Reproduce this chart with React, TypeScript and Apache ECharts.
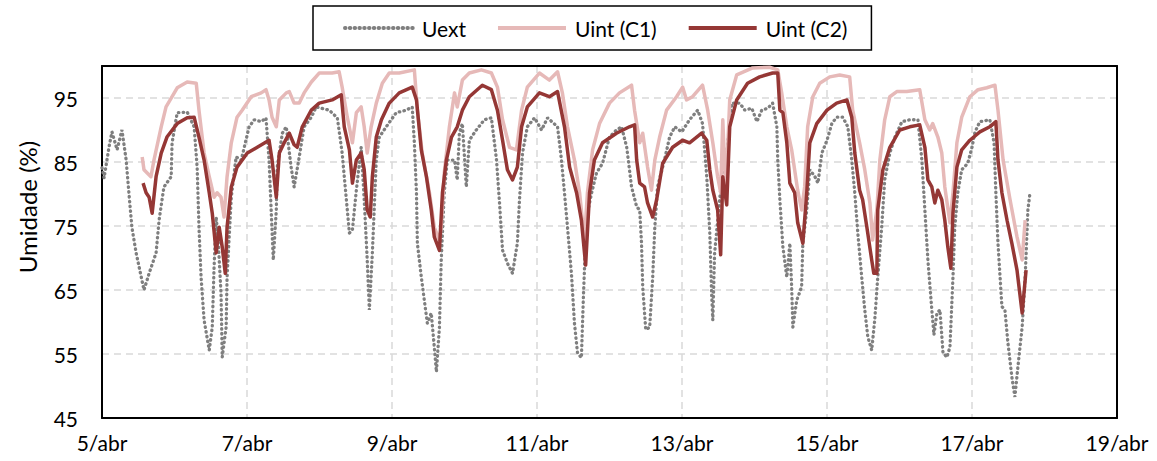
import React, { useEffect, useRef } from "react";
import * as echarts from "echarts";

// Time in hours since 5/abr 00:00, relative humidity in %
const uextHours = [
  0.0, 0.7, 2.3, 3.3, 5.0, 6.6, 8.0, 8.9, 9.9, 11.3, 13.9, 15.6, 17.9, 18.9, 20.5, 22.9, 23.2, 24.9, 28.2, 30.5,
  31.5, 32.1, 32.8, 33.8, 35.5, 36.5, 37.1, 37.8, 38.4, 39.4, 39.8, 41.1, 41.4, 42.8, 44.4, 46.1, 48.7, 50.4, 52.7, 54.3,
  55.3, 56.0, 56.7, 57.7, 58.0, 59.7, 61.0, 62.6, 63.6, 65.3, 66.9, 69.3, 70.9, 75.2, 77.9, 79.5, 80.9, 81.9, 82.9, 84.2,
  85.8, 86.8, 87.8, 88.5, 89.5, 90.8, 91.8, 94.1, 97.4, 100.7, 102.7, 103.4, 104.1, 104.4, 105.7, 106.7, 107.7, 109.0, 110.0, 110.7,
  111.7, 112.3, 113.3, 114.3, 116.7, 117.6, 118.3, 119.3, 120.6, 121.6, 123.9, 126.6, 128.9, 130.6, 131.6, 132.6, 134.2, 135.9, 137.5, 138.2,
  139.2, 140.8, 143.2, 145.5, 147.5, 150.8, 152.1, 153.1, 154.1, 155.4, 156.4, 157.4, 158.7, 159.4, 160.4, 162.1, 163.7, 165.7, 168.0, 170.3,
  172.0, 173.7, 175.3, 177.0, 178.0, 178.6, 179.0, 180.0, 181.3, 182.3, 183.0, 183.9, 186.2, 187.9, 189.6, 191.9, 194.5, 197.2, 198.8, 200.2,
  201.2, 201.8, 202.2, 202.8, 205.5, 206.8, 208.5, 211.1, 212.8, 215.1, 216.8, 218.4, 220.4, 222.0, 223.4, 223.7, 224.4, 225.4, 226.7, 227.7,
  228.3, 228.7, 230.0, 231.6, 232.0, 233.3, 234.3, 236.0, 237.0, 238.3, 240.0, 241.6, 243.2, 245.2, 246.9, 248.2, 249.2, 250.2, 251.5, 252.5,
  253.5, 254.8, 255.8, 256.8, 258.1, 259.1, 260.8, 262.5, 264.8, 267.4, 270.1, 271.4, 272.4, 273.4, 274.7, 275.4, 276.4, 277.4, 278.4, 279.7,
  280.7, 281.7, 282.3, 283.3, 284.6, 286.6, 288.0, 289.0, 290.6, 293.9, 295.3, 295.9, 296.6, 297.9, 298.9, 299.9, 301.2, 302.2, 303.2, 304.6,
  305.6, 306.5, 307.2,
];
const uextValues = [
  84.1, 82.5, 87.3, 89.7, 86.9, 90.0, 85.3, 80.2, 74.8, 70.8, 65.0, 67.6, 70.8, 75.9, 81.1, 82.7, 88.0, 92.7, 92.8, 90.5,
  84.2, 74.8, 67.0, 60.3, 55.6, 59.2, 68.6, 76.4, 73.3, 64.5, 54.5, 59.2, 67.0, 79.5, 85.8, 85.3, 90.5, 91.6, 91.3, 91.9,
  85.3, 77.5, 69.7, 77.5, 84.2, 89.5, 90.5, 84.2, 81.1, 85.8, 90.5, 92.0, 93.6, 93.1, 91.9, 86.4, 79.1, 73.9, 74.4, 80.6,
  87.3, 79.1, 69.7, 61.9, 70.8, 85.3, 88.9, 90.5, 92.7, 93.1, 93.6, 88.0, 80.2, 72.3, 67.0, 63.4, 59.8, 61.4, 56.1, 52.2,
  59.2, 69.7, 80.2, 85.3, 85.3, 82.2, 89.5, 91.0, 81.1, 88.4, 90.0, 91.6, 91.9, 85.3, 78.6, 71.2, 69.2, 67.6, 72.3, 79.1,
  86.4, 90.5, 91.9, 90.0, 91.9, 90.5, 85.3, 80.2, 74.8, 67.6, 59.8, 55.2, 54.4, 64.5, 76.4, 80.2, 83.3, 84.8, 88.9, 90.0,
  90.5, 87.3, 81.1, 78.0, 77.5, 72.3, 65.5, 58.8, 59.2, 67.0, 74.8, 81.1, 85.3, 88.9, 90.5, 89.7, 91.6, 93.1, 91.0, 82.7,
  73.9, 64.5, 60.3, 70.8, 84.2, 86.4, 94.2, 94.2, 93.1, 93.4, 91.3, 93.1, 93.4, 94.2, 90.5, 85.3, 79.1, 71.7, 67.0, 72.3,
  65.5, 59.2, 63.4, 65.5, 72.3, 77.5, 83.8, 82.7, 81.7, 86.4, 88.4, 91.0, 92.0, 92.0, 90.5, 85.3, 80.2, 73.9, 67.0, 61.9,
  57.7, 55.6, 60.3, 67.0, 74.8, 82.2, 86.4, 88.9, 91.3, 91.6, 91.6, 85.3, 77.5, 69.7, 61.9, 58.0, 61.4, 61.9, 55.2, 54.5,
  56.1, 67.0, 74.8, 80.2, 83.8, 84.8, 87.3, 89.7, 91.3, 91.6, 88.0, 80.2, 72.3, 62.4, 61.9, 56.7, 51.4, 48.3, 53.0, 59.2,
  67.0, 77.5, 80.2,
];

const c1Hours = [
  13.3, 13.9, 16.2, 17.2, 19.6, 21.2, 23.2, 24.9, 28.2, 31.2, 32.1, 33.8, 35.5, 37.1, 38.1, 39.4, 40.4, 41.4, 42.8, 44.7,
  46.4, 49.4, 52.7, 54.3, 55.3, 56.3, 57.7, 58.7, 61.0, 62.0, 63.6, 65.3, 66.9, 69.3, 71.9, 76.2, 78.5, 79.5, 81.2, 82.9,
  84.2, 85.8, 86.8, 87.8, 89.1, 90.8, 92.8, 95.1, 98.4, 103.4, 104.4, 106.0, 108.4, 110.0, 111.7, 112.3, 113.3, 115.0, 116.7, 117.6,
  119.3, 121.6, 125.6, 128.9, 130.9, 132.6, 134.9, 137.2, 138.9, 140.8, 144.8, 148.1, 150.8, 152.4, 154.1, 156.4, 158.1, 159.7, 160.7, 162.4,
  164.7, 168.0, 171.3, 175.3, 176.3, 178.0, 179.0, 180.6, 181.9, 183.0, 184.6, 186.9, 190.2, 192.2, 193.5, 195.5, 198.8, 200.5, 202.2, 203.8,
  204.8, 205.5, 206.5, 207.8, 210.1, 215.4, 221.0, 223.7, 225.0, 226.7, 228.3, 230.3, 231.6, 232.6, 233.6, 235.3, 237.6, 240.9, 244.2, 247.5,
  248.5, 250.8, 252.5, 254.2, 255.1, 256.5, 257.5, 259.1, 260.8, 263.1, 266.4, 270.7, 272.4, 274.0, 275.0, 276.7, 278.0, 279.0, 280.7, 281.7,
  283.0, 284.6, 287.3, 290.0, 292.9, 295.6, 296.6, 298.3, 300.6, 302.9, 304.6, 305.6,
];
const c1Values = [
  85.8, 83.8, 82.7, 85.3, 90.5, 93.6, 95.2, 96.6, 97.5, 97.3, 93.1, 86.4, 82.7, 79.5, 80.2, 79.5, 76.4, 82.7, 88.0, 92.0,
  93.1, 95.2, 95.8, 96.3, 94.7, 92.0, 90.5, 94.7, 95.8, 96.0, 94.2, 94.2, 95.8, 97.5, 98.9, 98.9, 99.1, 96.7, 92.0, 88.0,
  92.7, 93.6, 90.5, 86.4, 90.5, 94.2, 97.3, 98.9, 98.9, 99.4, 93.1, 86.4, 80.2, 74.8, 72.8, 74.8, 83.3, 90.5, 95.8, 93.6,
  97.8, 98.9, 99.4, 98.9, 96.7, 91.6, 87.3, 86.9, 93.1, 96.7, 98.9, 97.8, 99.1, 95.8, 90.5, 85.3, 80.2, 72.8, 80.2, 86.9,
  91.0, 94.2, 95.8, 97.0, 93.1, 88.0, 89.5, 84.2, 80.6, 85.3, 88.9, 93.1, 95.2, 96.7, 94.7, 95.2, 97.0, 93.1, 88.0, 82.7,
  80.2, 91.6, 80.2, 94.7, 98.6, 99.7, 99.8, 99.4, 95.8, 90.5, 86.9, 80.6, 77.5, 81.1, 90.5, 95.2, 97.3, 98.3, 98.6, 98.3,
  93.1, 88.0, 83.8, 78.6, 72.8, 77.5, 85.3, 91.6, 95.2, 96.0, 96.0, 96.3, 91.6, 90.0, 91.0, 88.9, 86.4, 81.1, 75.5, 80.2,
  88.0, 92.0, 95.2, 96.3, 96.6, 97.0, 93.1, 85.3, 79.1, 73.3, 69.7, 75.9,
];

const c2Hours = [
  13.6, 14.6, 15.6, 16.6, 17.9, 19.6, 21.5, 24.9, 28.2, 30.5, 32.1, 33.8, 35.5, 36.5, 37.8, 38.8, 39.8, 40.8, 41.4, 42.8,
  44.7, 48.1, 51.4, 55.3, 56.3, 57.7, 58.7, 60.3, 62.0, 63.6, 64.6, 66.3, 69.3, 71.9, 76.2, 79.2, 80.2, 81.9, 82.9, 84.2,
  85.8, 86.8, 87.8, 88.8, 89.5, 90.8, 92.5, 95.1, 98.4, 102.7, 104.1, 105.7, 107.4, 109.0, 110.0, 111.7, 112.7, 114.0, 115.7, 117.6,
  119.3, 121.6, 125.9, 128.9, 130.9, 132.6, 134.2, 135.9, 137.5, 138.9, 140.8, 144.8, 148.1, 150.8, 153.1, 154.8, 157.1, 158.7, 160.1, 161.4,
  163.0, 165.7, 170.3, 174.6, 176.3, 177.0, 178.0, 179.6, 180.6, 182.3, 183.6, 185.6, 188.9, 192.2, 194.5, 198.5, 200.2, 201.2, 202.2, 203.8,
  204.8, 205.5, 206.8, 207.8, 210.1, 213.7, 217.7, 222.0, 223.7, 224.4, 225.4, 226.7, 227.7, 229.3, 230.3, 232.0, 233.3, 234.3, 236.6, 240.0,
  243.2, 246.6, 248.2, 249.2, 250.8, 251.8, 253.2, 254.8, 255.5, 256.5, 256.8, 258.5, 260.8, 264.1, 267.4, 270.7, 272.4, 273.4, 274.7, 275.7,
  276.7, 278.0, 279.0, 280.0, 281.0, 281.7, 283.0, 284.6, 287.3, 290.6, 293.9, 295.9, 296.6, 297.9, 299.6, 301.2, 302.9, 304.6, 305.9,
];
const c2Values = [
  81.7, 80.2, 79.5, 77.0, 82.7, 86.4, 88.9, 91.0, 91.9, 92.0, 88.9, 85.3, 80.2, 77.0, 70.8, 74.8, 71.7, 67.6, 74.8, 81.1,
  84.2, 86.4, 87.3, 88.4, 85.3, 79.5, 86.4, 88.0, 89.5, 87.7, 87.3, 90.5, 93.1, 94.2, 94.7, 95.5, 90.5, 86.9, 81.7, 85.3,
  86.4, 83.8, 77.5, 76.4, 82.7, 88.9, 91.6, 94.2, 95.8, 96.7, 94.7, 86.9, 82.7, 77.5, 73.3, 71.2, 80.2, 85.3, 88.9, 90.5,
  93.1, 95.2, 97.0, 96.3, 93.1, 88.4, 83.8, 82.2, 84.2, 90.5, 93.6, 95.8, 95.2, 96.0, 90.5, 84.2, 80.2, 75.9, 68.9, 80.2,
  85.3, 88.0, 89.5, 90.5, 90.8, 85.3, 81.7, 81.1, 78.6, 76.4, 79.1, 84.8, 87.3, 88.4, 88.0, 89.5, 88.4, 83.8, 80.6, 77.5,
  70.5, 82.7, 78.3, 90.5, 94.7, 97.3, 98.3, 98.9, 98.9, 93.1, 92.7, 88.0, 81.7, 80.2, 75.5, 72.3, 80.2, 88.0, 91.0, 93.1,
  94.2, 94.7, 92.0, 86.4, 80.6, 79.1, 74.8, 69.7, 67.6, 67.6, 77.5, 83.8, 87.3, 90.0, 90.5, 90.8, 87.3, 82.2, 81.1, 78.6,
  80.6, 79.1, 75.9, 71.7, 68.4, 77.0, 84.2, 86.9, 88.4, 89.7, 90.5, 91.3, 85.3, 80.2, 75.9, 72.3, 68.1, 61.4, 68.1,
];

const seriesNames = ["Uext", "Uint (C1)", "Uint (C2)"];
const firstDay = 5; // 5/abr
const dayCount = 14;
const dayStep = 2;
const yMin = 45;
const yMax = 100;
const yStep = 10;

const FONT = "Lato, 'Open Sans', sans-serif";

const toData = (hours: number[], vals: number[]) =>
  hours.map((h, i) => [h / 24, vals[i] - yMin]);

export default function App() {
  const ref = useRef<HTMLDivElement>(null);

  useEffect(() => {
    if (!ref.current) return;
    const chart = echarts.init(ref.current, undefined, { renderer: "svg" });
    const splitStyle = { color: "#D9D9D9", width: 1.5, type: [7, 5] as any };
    chart.setOption({
      animation: false,
      backgroundColor: "#ffffff",
      textStyle: { fontFamily: FONT },
      grid: {
        left: 102,
        right: 40,
        top: 66,
        bottom: 43,
        show: false,
      },
      legend: {
        data: seriesNames,
        left: 313,
        top: 6,
        orient: "horizontal",
        itemWidth: 68,
        itemHeight: 14,
        itemGap: 30,
        padding: [11, 24, 11, 30],
        borderColor: "#000000",
        borderWidth: 1.5,
        itemStyle: { opacity: 0 },
        lineStyle: { width: 4 },
        textStyle: { fontFamily: FONT, fontSize: 21, color: "#000000", lineHeight: 22, padding: [0, 0, 0, 4] },
      },
      xAxis: [
        {
          type: "value",
          min: 0,
          max: dayCount,
          interval: dayStep,
          axisLine: { show: true, onZero: false, lineStyle: { color: "#000000", width: 2 } },
          axisTick: { show: false },
          axisLabel: {
            fontFamily: FONT,
            fontSize: 21,
            color: "#000000",
            margin: 14,
            formatter: (v: number) => `${v + firstDay}/abr`,
          },
          splitLine: { show: true, showMinLine: false, showMaxLine: false, lineStyle: splitStyle },
        },
        {
          type: "value",
          position: "top",
          min: 0,
          max: dayCount,
          interval: dayStep,
          axisLine: { show: true, onZero: false, lineStyle: { color: "#000000", width: 2 } },
          axisTick: { show: false },
          axisLabel: { show: false },
          splitLine: { show: false },
        },
      ],
      yAxis: [
        {
          type: "value",
          min: 0,
          max: yMax - yMin,
          interval: yStep,
          axisLine: { show: true, onZero: false, lineStyle: { color: "#000000", width: 2 } },
          axisTick: { show: false },
          axisLabel: {
            fontFamily: FONT,
            fontSize: 21,
            color: "#000000",
            margin: 24,
            showMaxLabel: false,
            formatter: (v: number) => (v >= yMax - yMin ? "" : `${v + yMin}`),
          },
          splitLine: { show: true, showMinLine: false, showMaxLine: false, lineStyle: splitStyle },
        },
        {
          type: "value",
          position: "right",
          min: 0,
          max: yMax - yMin,
          interval: yStep,
          axisLine: { show: true, onZero: false, lineStyle: { color: "#000000", width: 2 } },
          axisTick: { show: false },
          axisLabel: { show: false },
          splitLine: { show: false },
        },
      ],
      graphic: [
        {
          type: "text",
          x: 27,
          y: 207,
          rotation: Math.PI / 2,
          style: {
            text: "Umidade (%)",
            fontFamily: FONT,
            fontSize: 24,
            fill: "#000000",
            align: "center",
            verticalAlign: "middle",
          },
        },
      ],
      series: [
        {
          name: seriesNames[0],
          type: "line",
          symbol: "none",
          data: toData(uextHours, uextValues),
          lineStyle: { color: "#7F7F7F", width: 3.3, type: [0.5, 4.3], cap: "round" },
          itemStyle: { color: "#7F7F7F" },
          z: 2,
        },
        {
          name: seriesNames[1],
          type: "line",
          symbol: "none",
          data: toData(c1Hours, c1Values),
          lineStyle: { color: "#E6B9B8", width: 3.5, join: "round" },
          itemStyle: { color: "#E6B9B8" },
          z: 3,
        },
        {
          name: seriesNames[2],
          type: "line",
          symbol: "none",
          data: toData(c2Hours, c2Values),
          lineStyle: { color: "#953735", width: 3.5, join: "round" },
          itemStyle: { color: "#953735" },
          z: 4,
        },
      ],
    });
    return () => chart.dispose();
  }, []);

  return (
    <div
      ref={ref}
      style={{ position: "absolute", left: 0, top: 0, width: 1157, height: 461 }}
    />
  );
}
